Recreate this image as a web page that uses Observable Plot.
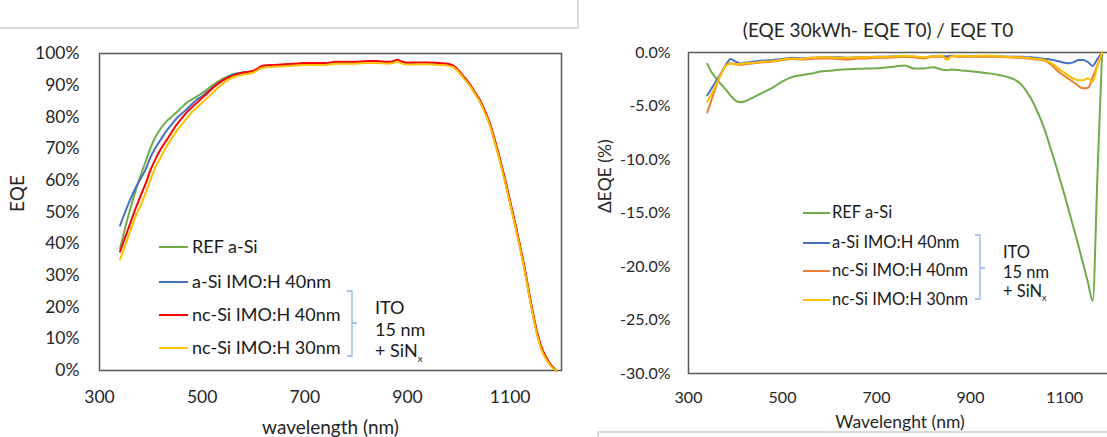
<!DOCTYPE html>
<html><head><meta charset="utf-8">
<script src="https://cdn.jsdelivr.net/npm/d3@7"></script>
<script src="https://cdn.jsdelivr.net/npm/@observablehq/plot@0.6"></script>
<style>
body{margin:0;background:#fff;font-family:Lato,"Open Sans",sans-serif;}
#wrap{position:relative;width:1107px;height:437px;overflow:hidden;background:#fff;}
.pane{position:absolute;top:0;height:437px;}
.pane svg{max-width:none !important;}
.lg{position:absolute;white-space:nowrap;line-height:1;color:#1a1a1a;font-family:Lato,sans-serif;}
.sw{position:absolute;height:2.5px;}
.edge{position:absolute;background:#d9d9d9;}
</style></head><body>
<div id="wrap">
  <div class="edge" style="left:0;top:27px;width:578px;height:1.5px"></div>
  <div class="edge" style="left:577px;top:0;width:1.5px;height:28px"></div>
  <div class="edge" style="left:597px;top:431px;width:520px;height:1.5px"></div>
  <div class="edge" style="left:597px;top:431px;width:1.5px;height:10px"></div>
  <div id="p1" class="pane" style="left:0;width:578px"></div>
  <div id="p2" class="pane" style="left:580px;width:540px"></div>
</div>
<script>
// ---------- Data: left chart (EQE, %) ----------
const wlEQE = [340,350,360,370,380,390,400,410,420,430,440,450,460,470,480,490,500,520,540,560,580,600,610,620,640,660,680,700,720,740,760,780,800,820,840,860,870,880,890,900,920,940,960,980,990,1000,1010,1020,1030,1040,1050,1060,1070,1080,1090,1100,1110,1120,1130,1140,1150,1160,1170,1180,1190];
const eqeRef = [38.5,45,51,56.5,61.5,66,70.5,74,76.5,78.5,80,81.5,83,84.5,85.5,86.5,87.5, 90,92,93.5,94,94.5, 95.2,96, 96.2,96.4,96.6,96.8,96.8,96.8,97.2,97.2,97.2,97.4,97.4, 97.2,97.3,97.8,97.2,96.9, 97,97,96.8,96.5, 96,94.5,92.5,90.5,88,85.5,82,78,72.5,66.5,60,53,46,38.5,30.5,21.5,13.5,7.5,4,1.5,0];
const eqeASi40 = [45.7,50,54,57.5,60.5,63.5,67.5,70.5,73,75.5,77.5,79.5,81,82.5,84,85.5,86.5, 89.3,91.5,93.3,94,94.3, 95.1,95.8, 96,96.2,96.4,96.6,96.6,96.6,97,97,97,97.2,97.2, 97,97.1,97.6,97,96.7, 96.8,96.8,96.6,96.3, 95.8,94.3,92.3,90.3,87.8,85.3,81.8,77.8,72.3,66.3,59.8,52.8,45.8,38.3,30.3,21.3,13.3,7.3,3.8,1.4,0];
const eqeNcSi40 = [37.5,42,46.5,51,55,59,63.5,67,70,72.5,75,77.5,79.5,81.5,83,84.5,86, 89,91.5,93,94,94.5, 95.5,96.2, 96.4,96.6,96.8,97,97,97,97.4,97.4,97.4,97.6,97.6, 97.4,97.5,98,97.4,97.1, 97.2,97.2,97,96.7, 96.1,94.6,92.6,90.6,88.1,85.6,82.2,78.2,72.8,66.8,60.3,53.3,46.3,38.8,30.8,21.8,13.8,7.8,4.2,1.6,0];
const eqeNcSi30 = [35,39.5,44,48.5,52,56,60.5,64.5,67.5,70.5,73,75.5,77.5,79.5,81.5,83,84.5, 87.5,90.5,92.5,93.3,94, 95,95.6, 95.8,96,96.2,96.4,96.4,96.4,96.8,96.8,96.8,97,97, 96.8,96.9,97.4,96.8,96.5, 96.6,96.6,96.4,96.1, 95.6,94.1,92.1,90.1,87.6,85.1,81.6,77.6,72,66,59.5,52.5,45.5,38,30,21,13,7,3.6,1.2,0];

// ---------- Data: right chart (delta EQE, %) ----------
const wlD = [340,350,360,370,380,390,400,410,420,440,460,480,500,520,540,560,580,600,620,640,660,680,700,720,740,760,780,800,820,840,850,860,880,900,920,940,960,980,1000,1010,1020,1030,1040,1050,1060,1070,1080,1090,1100,1110,1120,1130,1140,1150,1160,1170,1180];
const dRef = [-1.06,-1.9,-2.5,-3.0,-3.5,-4.05,-4.5,-4.65,-4.55, -4.15,-3.7,-3.25,-2.7,-2.3,-2.12,-1.99,-1.78,-1.7,-1.62,-1.56,-1.53,-1.5,-1.48,-1.4,-1.3,-1.21,-1.5,-1.5,-1.37,-1.6, -1.65,-1.6, -1.68,-1.75,-1.84,-1.95,-2.1,-2.3, -2.7,-3.1,-3.7,-4.4,-5.3,-6.3,-7.5,-8.9,-10.3,-11.8,-13.3,-14.9,-16.5,-18.1,-19.8,-21.5,-23.2,-11.6,0];
const dASi40 = [-4.0,-3.3,-2.6,-1.9,-1.1,-0.6,-0.85,-1.0,-0.95, -0.85,-0.75,-0.7,-0.6,-0.5,-0.55,-0.5,-0.45,-0.45,-0.45,-0.5,-0.45,-0.45,-0.4,-0.4,-0.35,-0.35,-0.4,-0.5,-0.35,-0.35, -0.35,-0.3, -0.35,-0.35,-0.35,-0.35,-0.35,-0.4, -0.4,-0.4,-0.45,-0.45,-0.5,-0.55,-0.6,-0.65,-0.75,-0.85,-0.95,-1.0,-0.9,-0.7,-0.7,-0.9,-1.25,-0.6,0];
const dNcSi40 = [-5.6,-4.3,-3.0,-1.9,-1.2,-1.0,-1.1,-1.15,-1.1, -1.0,-0.9,-0.85,-0.7,-0.6,-0.65,-0.6,-0.55,-0.55,-0.6,-0.65,-0.55,-0.55,-0.5,-0.5,-0.45,-0.4,-0.45,-0.55,-0.4,-0.4, -0.55,-0.35, -0.4,-0.4,-0.4,-0.4,-0.4,-0.45, -0.5,-0.5,-0.55,-0.6,-0.65,-0.7,-0.8,-1.1,-1.5,-1.9,-2.2,-2.5,-2.8,-3.15,-3.35,-3.3,-2.3,-1.2,0];
const dNcSi30 = [-4.6,-3.8,-2.9,-2.0,-1.2,-1.05,-1.1,-1.05,-1.0, -0.95,-0.85,-0.8,-0.65,-0.55,-0.6,-0.5,-0.45,-0.45,-0.5,-0.5,-0.45,-0.45,-0.4,-0.4,-0.35,-0.3,-0.35,-0.45,-0.35,-0.3, -0.7,-0.35, -0.3,-0.35,-0.3,-0.3,-0.35,-0.4, -0.45,-0.45,-0.5,-0.55,-0.6,-0.65,-0.75,-0.95,-1.25,-1.6,-1.9,-2.2,-2.45,-2.6,-2.6,-2.4,-2.7,-1.3,0];

// ---------- Labels / ticks ----------
const seriesNames = ["REF a-Si","a-Si IMO:H 40nm","nc-Si IMO:H 40nm","nc-Si IMO:H 30nm"];
const colorsLeft = ["#70AD47","#4472C4","#FF0000","#FFC000"];
const colorsRight = ["#70AD47","#4472C4","#ED7D31","#FFC000"];
const xTicks = [300,500,700,900,1100];
const eqeTicks = [0,10,20,30,40,50,60,70,80,90,100];
const dTicks = [-30,-25,-20,-15,-10,-5,0];
const bracketLines = ["ITO","15 nm","+ SiN"];
const titleRight = "(EQE 30kWh- EQE T0) / EQE T0";
const xLabelLeft = "wavelength (nm)";
const xLabelRight = "Wavelenght (nm)";
const yLabelLeft = "EQE";
const yLabelRight = "\u0394EQE (%)";

const toLong = (xs, cols) => cols.flatMap((vals, i) => vals.map((v, j) => ({wl: xs[j], v, series: seriesNames[i]})));
const eqeData = toLong(wlEQE, [eqeRef, eqeASi40, eqeNcSi40, eqeNcSi30]);
const dData = toLong(wlD, [dRef, dASi40, dNcSi40, dNcSi30]);

const txt = "#262626";

const p1 = Plot.plot({
  width: 578, height: 437,
  marginLeft: 99, marginRight: 17, marginTop: 53, marginBottom: 67,
  style: {fontFamily: "Lato, sans-serif", fontSize: "17.5px", color: txt, background: "transparent", overflow: "visible"},
  x: {domain: [300, 1200], ticks: xTicks, tickSize: 0, tickPadding: 20, tickFormat: d => String(d), label: null},
  y: {domain: [0, 100], ticks: eqeTicks, tickSize: 0, tickPadding: 20, tickFormat: d => d + "%", label: null},
  color: {domain: seriesNames, range: colorsLeft},
  marks: [
    Plot.frame({stroke: "#595959", strokeWidth: 1.5}),
    Plot.line(eqeData, {x: "wl", y: "v", z: "series", stroke: "series", strokeWidth: 2, curve: "monotone-x"}),
    Plot.text([xLabelLeft], {text: d => d, frameAnchor: "bottom", lineAnchor: "middle", dy: 57, fontSize: 19, fill: txt}),
    Plot.text([yLabelLeft], {text: d => d, frameAnchor: "left", lineAnchor: "middle", dx: -82, rotate: -90, fontSize: 19, fill: txt})
  ]
});
document.getElementById("p1").appendChild(p1);

const p2 = Plot.plot({
  width: 540, height: 437,
  marginLeft: 108, marginRight: 9, marginTop: 52, marginBottom: 64,
  style: {fontFamily: "Lato, sans-serif", fontSize: "16px", color: txt, background: "transparent", overflow: "visible"},
  x: {domain: [300, 1200], ticks: xTicks, tickSize: 0, tickPadding: 18, tickFormat: d => String(d), label: null},
  y: {domain: [-30, 0], ticks: dTicks, tickSize: 0, tickPadding: 18, tickFormat: d => d.toFixed(1) + "%", label: null},
  color: {domain: seriesNames, range: colorsRight},
  marks: [
    Plot.frame({stroke: "#595959", strokeWidth: 1.5}),
    Plot.line(dData, {x: "wl", y: "v", z: "series", stroke: "series", strokeWidth: 2, curve: "monotone-x"}),
    Plot.text([titleRight], {text: d => d, frameAnchor: "top", lineAnchor: "middle", dx: -22, dy: -22, fontSize: 19, fill: txt}),
    Plot.text([xLabelRight], {text: d => d, frameAnchor: "bottom", lineAnchor: "middle", dy: 49, fontSize: 17.5, fill: txt}),
    Plot.text([yLabelRight], {text: d => d, frameAnchor: "left", lineAnchor: "middle", dx: -83, rotate: -90, fontSize: 17.5, fill: txt})
  ]
});
document.getElementById("p2").appendChild(p2);

// ---------- HTML legends ----------
const wrap = document.getElementById("wrap");
function legend(cfg) {
  seriesNames.forEach((name, i) => {
    const y = cfg.rows[i];
    const sw = document.createElement("div");
    sw.className = "sw";
    Object.assign(sw.style, {left: cfg.swX + "px", top: (y - 1.25) + "px", width: cfg.swW + "px", background: cfg.colors[i]});
    wrap.appendChild(sw);
    const t = document.createElement("div");
    t.className = "lg";
    t.textContent = name;
    Object.assign(t.style, {left: cfg.textX + "px", top: (y - cfg.fs * 0.55) + "px", fontSize: cfg.fs + "px"});
    wrap.appendChild(t);
  });
  const b = cfg.brace;
  const ns = "http://www.w3.org/2000/svg";
  const svg = document.createElementNS(ns, "svg");
  svg.setAttribute("width", 20); svg.setAttribute("height", b.y2 - b.y1 + 4);
  svg.style.position = "absolute"; svg.style.left = (b.x - 6) + "px"; svg.style.top = (b.y1 - 2) + "px";
  const path = document.createElementNS(ns, "path");
  const h = b.y2 - b.y1, m = b.ym - b.y1;
  path.setAttribute("d", `M1,2 H6 V${h + 2} H1 M6,${m + 2} H11`);
  path.setAttribute("fill", "none"); path.setAttribute("stroke", "#8DB6E2"); path.setAttribute("stroke-width", 1.3);
  svg.appendChild(path); wrap.appendChild(svg);
  bracketLines.forEach((s, i) => {
    const t = document.createElement("div");
    t.className = "lg";
    Object.assign(t.style, {left: cfg.itoX + "px", top: (cfg.itoRows[i] - cfg.fs * 0.55) + "px", fontSize: cfg.fs + "px"});
    t.textContent = s;
    if (i === 2) {
      const sub = document.createElement("sub");
      sub.textContent = "x";
      sub.style.fontSize = (cfg.fs * 0.55) + "px";
      t.appendChild(sub);
    }
    wrap.appendChild(t);
  });
}
legend({rows: [247, 282, 315, 348], swX: 159, swW: 29, textX: 192, fs: 18, colors: colorsLeft,
  brace: {x: 352, y1: 291, y2: 356, ym: 323}, itoX: 375, itoRows: [308, 330, 351]});
legend({rows: [213, 243, 271, 300], swX: 803, swW: 27, textX: 832, fs: 16.5, colors: colorsRight,
  brace: {x: 980, y1: 235, y2: 299, ym: 268}, itoX: 1003, itoRows: [253, 273, 292]});
</script>
</body></html>
